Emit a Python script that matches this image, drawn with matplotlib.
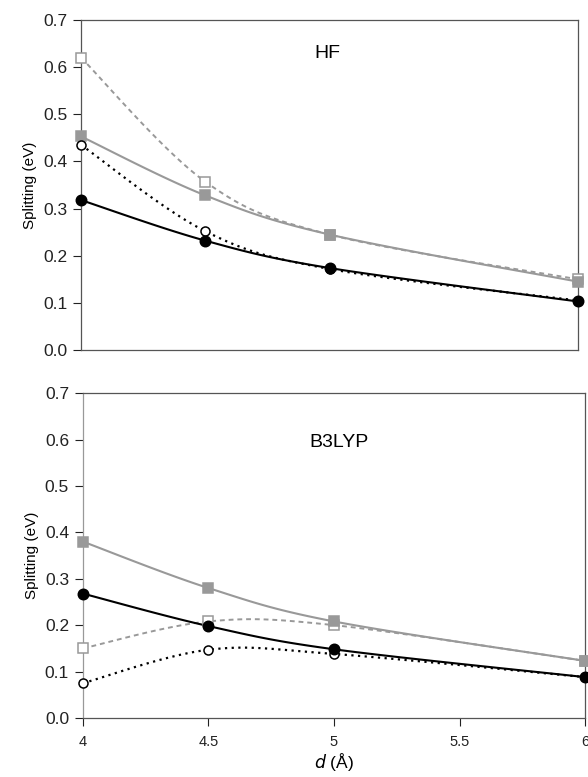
import matplotlib; matplotlib.use('Agg')
import matplotlib.pyplot as plt
import numpy as np

plt.rcParams['font.family'] = ['Liberation Sans', 'DejaVu Sans']

# =============================================================================
# DATA
# =============================================================================
D = [4.0, 4.5, 5.0, 6.0]

# HF panel
HF_SQ_OPEN = [0.620, 0.357, 0.245, 0.150]
HF_SQ_FILL = [0.453, 0.328, 0.245, 0.145]
HF_CI_OPEN = [0.435, 0.252, 0.172, 0.105]
HF_CI_FILL = [0.318, 0.232, 0.174, 0.103]

# B3LYP panel
B3_SQ_OPEN = [0.150, 0.208, 0.200, 0.123]
B3_SQ_FILL = [0.380, 0.280, 0.208, 0.123]
B3_CI_OPEN = [0.075, 0.147, 0.138, 0.088]
B3_CI_FILL = [0.268, 0.198, 0.148, 0.088]

YTICKS = [0.0, 0.1, 0.2, 0.3, 0.4, 0.5, 0.6, 0.7]
XTICKS = [4, 4.5, 5, 5.5, 6]
XTICKLABELS = ['4', '4.5', '5', '5.5', '6']

GRAY = '#999999'


def smooth(x, y, n=40):
    # Excel-style smoothed line (Catmull-Rom Bezier through the points)
    x = np.asarray(x, float); y = np.asarray(y, float)
    P = np.column_stack([x, y])
    out = []
    for i in range(len(P) - 1):
        p0 = P[i - 1] if i > 0 else P[i]
        p1, p2 = P[i], P[i + 1]
        p3 = P[i + 2] if i + 2 < len(P) else P[i + 1]
        c1 = p1 + (p2 - p0) / 6.0
        c2 = p2 - (p3 - p1) / 6.0
        t = np.linspace(0, 1, n)[:, None]
        seg = ((1 - t) ** 3) * p1 + 3 * ((1 - t) ** 2) * t * c1 \
            + 3 * (1 - t) * t ** 2 * c2 + t ** 3 * p2
        out.append(seg if i == 0 else seg[1:])
    out = np.vstack(out)
    return out[:, 0], out[:, 1]


def draw_series(ax, y, color, ls, marker, filled, ms):
    xs, ys = smooth(D, y)
    if ls == 'dashed':
        ax.plot(xs, ys, color=color, lw=1.4, ls=(0, (2.5, 2)), zorder=3)
    elif ls == 'dotted':
        ax.plot(xs, ys, color=color, lw=1.6, ls=(0, (1, 2)), zorder=3)
    else:
        ax.plot(xs, ys, color=color, lw=1.5, ls='-', zorder=3)
    ax.plot(D, y, ls='none', marker=marker, ms=ms, clip_on=False,
            markerfacecolor=color if filled else 'white',
            markeredgecolor=color, markeredgewidth=1.1, zorder=4)


def style_ax(ax):
    ax.set_xlim(4, 6)
    ax.set_ylim(0, 0.7)
    ax.set_yticks(YTICKS)
    ax.set_yticklabels([f'{v:.1f}' for v in YTICKS])
    ax.tick_params(axis='y', direction='out', length=6, width=0.8,
                   labelsize=12.5, pad=4, colors='#222222')
    for sp in ax.spines.values():
        sp.set_color('#555555'); sp.set_linewidth(0.9)
    ax.set_ylabel('Splitting (eV)', fontsize=11, labelpad=4)


fig = plt.figure(figsize=(5.88, 7.77), dpi=100)
ax1 = fig.add_axes([0.138, 0.5495, 0.845, 0.4247])
ax2 = fig.add_axes([0.141, 0.076, 0.854, 0.418])

# ── HF panel ─────────────────────────────────────────────────────────────────
draw_series(ax1, HF_SQ_OPEN, GRAY, 'dashed', 's', False, 6.5)
draw_series(ax1, HF_SQ_FILL, GRAY, 'solid', 's', True, 7)
draw_series(ax1, HF_CI_OPEN, 'black', 'dotted', 'o', False, 6.5)
draw_series(ax1, HF_CI_FILL, 'black', 'solid', 'o', True, 7.5)
style_ax(ax1)
ax1.set_xticks([])
ax1.text(4.99, 0.628, 'HF', fontsize=14, ha='center', va='center')

# ── B3LYP panel ──────────────────────────────────────────────────────────────
draw_series(ax2, B3_SQ_OPEN, GRAY, 'dashed', 's', False, 6.5)
draw_series(ax2, B3_SQ_FILL, GRAY, 'solid', 's', True, 7)
draw_series(ax2, B3_CI_OPEN, 'black', 'dotted', 'o', False, 6.5)
draw_series(ax2, B3_CI_FILL, 'black', 'solid', 'o', True, 7.5)
style_ax(ax2)
ax2.spines['left'].set_color('#999999')
ax2.set_xticks(XTICKS)
ax2.set_xticklabels(XTICKLABELS)
ax2.tick_params(axis='x', direction='out', length=6, width=0.8,
                labelsize=10.5, pad=6, colors='#222222')
ax2.set_xlabel('$d$ (\u00c5)', fontsize=12.5, labelpad=2)
ax2.text(5.02, 0.593, 'B3LYP', fontsize=14, ha='center', va='center')

fig.savefig('out.png', dpi=100)
